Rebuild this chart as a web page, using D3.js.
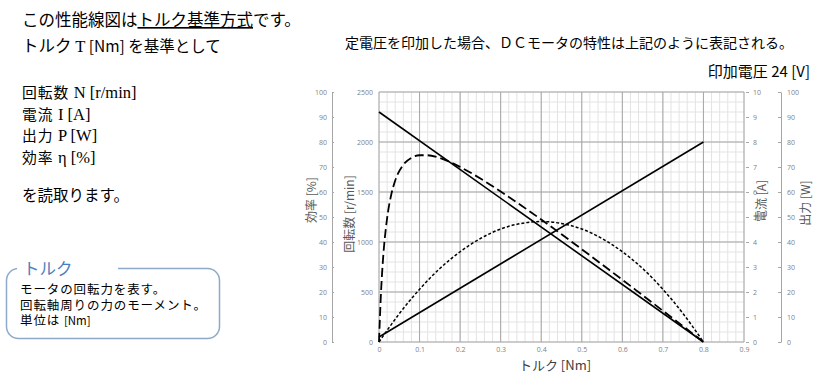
<!DOCTYPE html>
<html>
<head>
<meta charset="utf-8">
<script src="https://cdn.jsdelivr.net/npm/d3@7"></script>
<style>
  body { margin: 0; background: #fff; }
  svg { display: block; font-family: "Noto Sans CJK JP", "Noto Sans", sans-serif; }
</style>
</head>
<body>
<div id="chart"></div>
<script>
// torque [Nm] on the x axis
const torqueTicks = [0, 0.1, 0.2, 0.3, 0.4, 0.5, 0.6, 0.7, 0.8, 0.9];
const speedTicks = [0, 500, 1000, 1500, 2000, 2500];
const effTicks = [0, 10, 20, 30, 40, 50, 60, 70, 80, 90, 100];
const currentTicks = [0, 1, 2, 3, 4, 5, 6, 7, 8, 9, 10];
const powerTicks = [0, 10, 20, 30, 40, 50, 60, 70, 80, 90, 100];

// speed N [r/min] and current I [A] are straight lines
const speedT = [0, 0.8];
const speedN = [2300, 0];
const currentT = [0, 0.8];
const currentI = [0.2, 8];

// output P [W]
const powerT = [0, 0.05, 0.1, 0.15, 0.2, 0.25, 0.3, 0.35, 0.4, 0.45, 0.5, 0.55, 0.6, 0.65, 0.7, 0.75, 0.8];
const powerW = [0, 11.3, 21.1, 29.4, 36.1, 41.4, 45.2, 47.4, 48.2, 47.4, 45.2, 41.4, 36.1, 29.4, 21.1, 11.3, 0];

// efficiency η [%]
const effT = [0, 0.005, 0.01, 0.02, 0.03, 0.04, 0.06, 0.08, 0.1, 0.12, 0.15, 0.2, 0.25, 0.3, 0.35, 0.4, 0.45, 0.5, 0.55, 0.6, 0.65, 0.7, 0.75, 0.8];
const effPct = [0, 20.0, 33.3, 49.5, 58.8, 64.6, 70.9, 73.7, 74.7, 74.7, 73.6, 70.0, 65.4, 60.2, 54.7, 49.0, 43.1, 37.1, 31.0, 24.9, 18.7, 12.5, 6.3, 0];

const W = 817, H = 375;
const svg = d3.select('#chart').append('svg')
  .attr('width', W)
  .attr('height', H);

// ---- left explanation text ----
const t1 = svg.append('text').attr('x', 22).attr('y', 26).attr('font-size', 16.5);
t1.append('tspan').text('この性能線図は');
t1.append('tspan').attr('text-decoration', 'underline').text('トルク基準方式');
t1.append('tspan').text('です。');

const t2 = svg.append('text').attr('x', 22).attr('y', 52).attr('font-size', 16.5);
t2.append('tspan').text('トルク ');
t2.append('tspan').attr('font-family', 'Liberation Serif').text('T');
t2.append('tspan').attr('font-size', 15.5).text(' [Nm] を基準として');

const items = [
  ['回転数 ', 'N [r/min]'],
  ['電流 ', 'I [A]'],
  ['出力 ', 'P [W]'],
  ['効率 ', 'η [%]']
];
items.forEach((it, i) => {
  let t = svg.append('text').attr('x', 22).attr('y', 98 + i * 21.5).attr('font-size', 14.8);
  t.append('tspan').attr('letter-spacing', 1).text(it[0]);
  t.append('tspan').attr('font-family', 'Liberation Serif').attr('font-size', 16.5).text(it[1]);
});
svg.append('text').attr('x', 22).attr('y', 201).attr('font-size', 15.5).text('を読取ります。');

// torque box
svg.append('rect')
  .attr('x', 6.5).attr('y', 268.5).attr('width', 213).attr('height', 70)
  .attr('rx', 12).attr('ry', 12)
  .attr('fill', 'none').attr('stroke', '#8fa9c9').attr('stroke-width', 1.5);
svg.append('rect')
  .attr('x', 17).attr('y', 265).attr('width', 101).attr('height', 7)
  .attr('fill', '#fff');
svg.append('text').attr('x', 23).attr('y', 275).attr('font-size', 16.5)
  .attr('fill', '#4a7ebb').text('トルク');
const boxLines = ['モータの回転力を表す。', '回転軸周りの力のモーメント。'];
boxLines.forEach((s, i) => {
  svg.append('text').attr('x', 20).attr('y', 294 + i * 15.5).attr('font-size', 12.5)
    .attr('letter-spacing', 0.9).text(s);
});
const bl = svg.append('text').attr('x', 20).attr('y', 325).attr('font-size', 12.5);
bl.append('tspan').attr('letter-spacing', 0.9).text('単位は ');
bl.append('tspan').attr('font-size', 11.5).text('[Nm]');

// top right captions
svg.append('text').attr('x', 345).attr('y', 48).attr('font-size', 14)
  .text('定電圧を印加した場合、ＤＣモータの特性は上記のように表記される。');
svg.append('text').attr('x', 810).attr('y', 77).attr('font-size', 15)
  .attr('text-anchor', 'end').text('印加電圧 24 [V]');

// ---- chart ----
const x = d3.scaleLinear().domain([0, 0.9]).range([379, 744]);
const ySpeed = d3.scaleLinear().domain([0, 2500]).range([342, 92]);
const yEff = d3.scaleLinear().domain([0, 100]).range([342, 92]);
const yCur = d3.scaleLinear().domain([0, 10]).range([342, 92]);
const yPow = d3.scaleLinear().domain([0, 100]).range([342, 92]);

const grid = svg.append('g');
// minor grid
grid.selectAll('.vmin').data(d3.range(0, 46).map(i => i * 0.02))
  .enter().append('line')
  .attr('x1', d => x(d)).attr('x2', d => x(d))
  .attr('y1', 92).attr('y2', 342)
  .attr('stroke', '#e3e3e3').attr('stroke-width', 1);
grid.selectAll('.hmin').data(d3.range(0, 26).map(i => i * 100))
  .enter().append('line')
  .attr('x1', 379).attr('x2', 744)
  .attr('y1', d => ySpeed(d)).attr('y2', d => ySpeed(d))
  .attr('stroke', '#e3e3e3').attr('stroke-width', 1);
// major grid
grid.selectAll('.vmaj').data(torqueTicks)
  .enter().append('line')
  .attr('x1', d => x(d)).attr('x2', d => x(d))
  .attr('y1', 92).attr('y2', 342)
  .attr('stroke', '#a6a6a6').attr('stroke-width', 1);
grid.selectAll('.hmaj').data(speedTicks)
  .enter().append('line')
  .attr('x1', 379).attr('x2', 744)
  .attr('y1', d => ySpeed(d)).attr('y2', d => ySpeed(d))
  .attr('stroke', '#a6a6a6').attr('stroke-width', 1);

function styleAxis(g, lineShown) {
  g.selectAll('text').attr('fill', '#7f7f7f').attr('font-size', 7)
    .attr('font-family', '"Open Sans", sans-serif');
  g.selectAll('line').attr('stroke', '#a6a6a6');
  g.select('.domain').attr('stroke', lineShown ? '#a6a6a6' : 'none');
}

// x axis
svg.append('g').attr('transform', 'translate(0,342)')
  .call(d3.axisBottom(x).tickValues(torqueTicks).tickSize(0).tickPadding(5)
    .tickFormat(d => d === 0 ? '0' : d3.format('.1f')(d)))
  .call(g => styleAxis(g, false));

// speed axis (left of plot)
svg.append('g').attr('transform', 'translate(379,0)')
  .call(d3.axisLeft(ySpeed).tickValues(speedTicks).tickSize(0).tickPadding(6)
    .tickFormat(d3.format('d')))
  .call(g => styleAxis(g, false));

// efficiency axis
svg.append('g').attr('transform', 'translate(332,0)')
  .call(d3.axisRight(yEff).tickValues(effTicks).tickSize(2).tickSizeOuter(0))
  .call(g => styleAxis(g, true))
  .call(g => g.selectAll('text').attr('text-anchor', 'end').attr('x', -5));

// current axis
svg.append('g').attr('transform', 'translate(746,0)')
  .call(d3.axisRight(yCur).tickValues(currentTicks).tickSize(3).tickPadding(4).tickSizeOuter(0))
  .call(g => styleAxis(g, false));

// power axis
svg.append('g').attr('transform', 'translate(781,0)')
  .call(d3.axisRight(yPow).tickValues(powerTicks).tickSize(-3).tickPadding(6).tickSizeOuter(0))
  .call(g => styleAxis(g, true));

// axis titles
function vTitle(cx, cy, txt) {
  svg.append('text')
    .attr('transform', `translate(${cx},${cy}) rotate(-90)`)
    .attr('text-anchor', 'middle').attr('font-size', 12)
    .attr('fill', '#595959').text(txt);
}
vTitle(316, 200, '効率 [%]');
vTitle(354, 214, '回転数 [r/min]');
vTitle(766, 201, '電流 [A]');
vTitle(810, 203, '出力 [W]');
svg.append('text').attr('x', 555).attr('y', 370).attr('text-anchor', 'middle')
  .attr('font-size', 13).attr('fill', '#404040').text('トルク [Nm]');

// ---- curves ----
const curves = svg.append('g').attr('fill', 'none').attr('stroke', '#000');

curves.append('path')
  .datum(d3.zip(speedT, speedN))
  .attr('d', d3.line().x(d => x(d[0])).y(d => ySpeed(d[1])))
  .attr('stroke-width', 1.6);

curves.append('path')
  .datum(d3.zip(currentT, currentI))
  .attr('d', d3.line().x(d => x(d[0])).y(d => yCur(d[1])))
  .attr('stroke-width', 1.6);

curves.append('path')
  .datum(d3.zip(powerT, powerW))
  .attr('d', d3.line().curve(d3.curveMonotoneX).x(d => x(d[0])).y(d => yPow(d[1])))
  .attr('stroke-width', 1.5)
  .attr('stroke-dasharray', '3,2');

curves.append('path')
  .datum(d3.zip(effT, effPct))
  .attr('d', d3.line().curve(d3.curveMonotoneX).x(d => x(d[0])).y(d => yEff(d[1])))
  .attr('stroke-width', 1.8)
  .attr('stroke-dasharray', '9,4');
</script>
</body>
</html>
